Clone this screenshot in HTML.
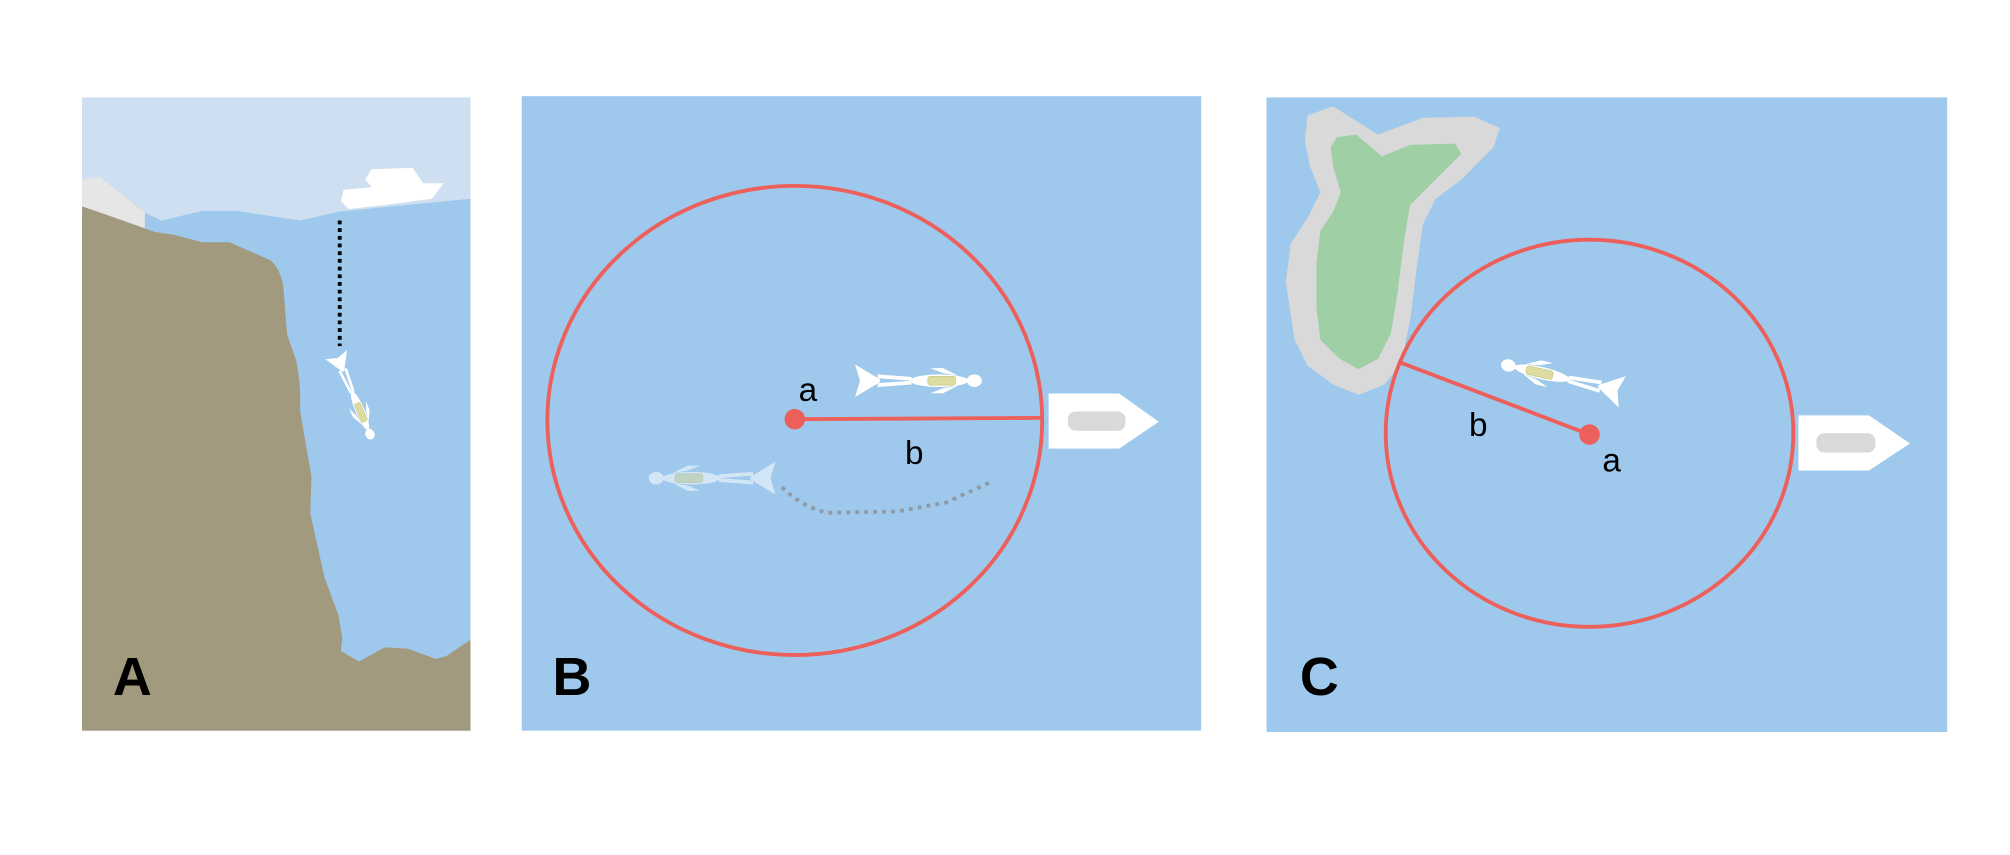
<!DOCTYPE html>
<html><head><meta charset="utf-8"><style>
html,body{margin:0;padding:0;background:#fff;}
svg{display:block;}
text{font-family:"Liberation Sans",sans-serif;}
</style></head><body>
<svg width="2010" height="855" viewBox="0 0 1568 667" xmlns="http://www.w3.org/2000/svg">
<defs>
<g id="diver">
  <path d="M80,-1 L100,-13 L96,0 L100,13 L80,1 Z" fill="#fff"/>
  <path d="M55,-3 L82,-5 L82,-2 L55,0 Z M55,3 L82,5 L82,2 L55,0 Z" fill="#fff"/>
  <ellipse cx="33" cy="0" rx="23" ry="5" fill="#fff"/>
  <path d="M18,-4 L30,-10 L40,-10 L30,-6 Z M18,4 L30,10 L40,10 L30,6 Z" fill="#fff"/>
  <rect x="20" y="-3.5" width="22" height="7" rx="2" fill="#dcdca0" stroke="#c8c88a" stroke-width="0.6"/>
  <ellipse cx="5" cy="0" rx="6" ry="5" fill="#fff"/>
</g>
</defs>

<g>
  <rect x="64" y="76" width="303" height="494" fill="#cddff0"/>
  <polygon points="64,140 78,138 113,166 126,172 158,164.5 185,164.5 234,172 265,165 367,155 367,570 64,570" fill="#9fc9ec"/>
  <polygon points="64,140 78,138 113,166 113,179 64,161" fill="#e6e6e6"/>
  <path d="M64,161 L73,164 L121,181 L135,183 L158,189 L179,189 L211,203 Q219,210 221,224 L224,261 L231,281 Q235,300 234,320 L243,372 L242,400 L253,450 L264,480 L267,497 L266,508 L280,516 L300,505 L318,506 L340,514 L348,512 L367,499 L367,570 L64,570 Z" fill="#a29a7e"/>
  <polygon points="268,148 290,146 285,140 290,132 322,131 330,143 346,143 337,155 300,160 272,163 266,157" fill="#fff"/>
  <line x1="265" y1="172" x2="265" y2="270" stroke="#000" stroke-width="3" stroke-dasharray="3,3"/>
  <use href="#diver" transform="translate(290,342) rotate(-113) scale(0.71)"/>
  <text x="88" y="542" font-size="42" font-weight="bold" fill="#000">A</text>
</g>

<g>
  <rect x="407" y="75" width="530" height="495" fill="#9fc9ec"/>
  <ellipse cx="620" cy="328" rx="193" ry="183" fill="none" stroke="#ec5f5a" stroke-width="3"/>
  <line x1="620" y1="327" x2="812" y2="326" stroke="#ec5f5a" stroke-width="3"/>
  <circle cx="620" cy="327" r="8" fill="#ec5f5a"/>
  <path d="M610,380 Q625,395 645,400 L700,399 L738,392 Q760,382 775,375" fill="none" stroke="#8f9aa5" stroke-width="3" stroke-dasharray="3,4"/>
  <g opacity="0.55"><use href="#diver" transform="translate(507,373) scale(0.98)"/></g>
  <use href="#diver" transform="translate(765,297) scale(-0.98,0.98)"/>
  <polygon points="818,307 873,307 904,329 873,350 818,350" fill="#fff"/>
  <rect x="833" y="321" width="45" height="15" rx="6" fill="#d9d9d9"/>
  <text x="623" y="313" font-size="26" fill="#000">a</text>
  <text x="706" y="362" font-size="26" fill="#000">b</text>
  <text x="431" y="542" font-size="42" font-weight="bold" fill="#000">B</text>
</g>

<g>
  <rect x="988" y="76" width="531" height="495" fill="#9fc9ec"/>
  <path d="M1020,90 L1040,83 L1075,105 L1110,92 L1150,91 L1170,100 L1165,115 L1140,140 L1120,155 L1110,175 L1105,210 L1100,250 L1093,283 L1080,300 L1060,308 L1040,300 L1020,285 L1010,265 L1003,220 L1007,190 L1020,170 L1030,150 L1022,130 L1018,110 Z" fill="#d9d9d9"/>
  <path d="M1043,107 L1058,105 L1078,122 L1100,113 L1135,112 L1140,120 L1120,140 L1100,160 L1095,190 L1090,230 L1085,260 L1075,280 L1060,288 L1045,280 L1030,265 L1027,240 L1027,205 L1030,180 L1040,165 L1046,150 L1040,130 L1038,115 Z" fill="#9fcfa5"/>
  <ellipse cx="1240" cy="338" rx="159" ry="151" fill="none" stroke="#ec5f5a" stroke-width="3"/>
  <line x1="1240" y1="339" x2="1093" y2="283" stroke="#ec5f5a" stroke-width="3"/>
  <circle cx="1240" cy="339" r="8" fill="#ec5f5a"/>
  <use href="#diver" transform="translate(1172,284) rotate(13) scale(0.96)"/>
  <polygon points="1403,324 1458,324 1490,346 1458,367 1403,367" fill="#fff"/>
  <rect x="1417" y="338" width="46" height="15" rx="6" fill="#d9d9d9"/>
  <text x="1250" y="368" font-size="26" fill="#000">a</text>
  <text x="1146" y="340" font-size="26" fill="#000">b</text>
  <text x="1014" y="542" font-size="42" font-weight="bold" fill="#000">C</text>
</g>
</svg>
</body></html>
